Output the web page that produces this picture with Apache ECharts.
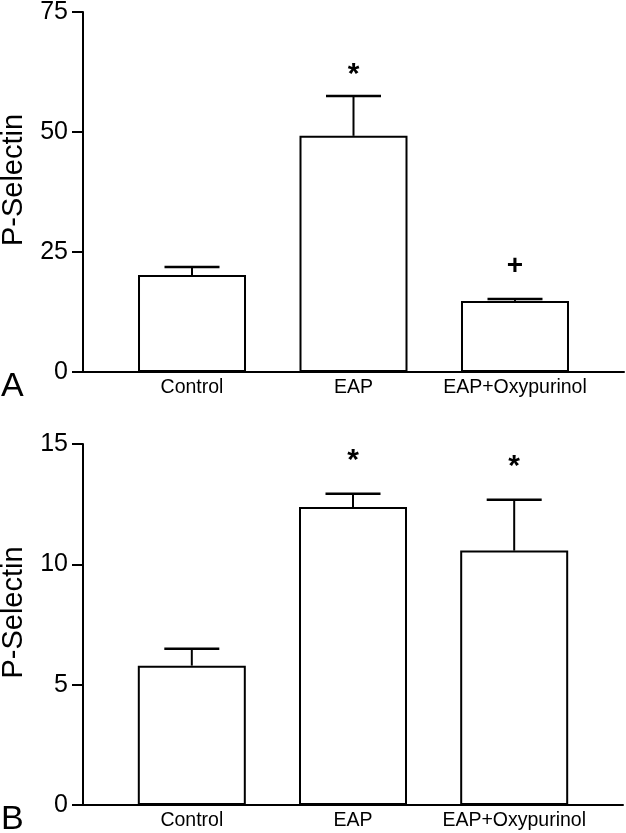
<!DOCTYPE html>
<html>
<head>
<meta charset="utf-8">
<script src="https://cdn.jsdelivr.net/npm/echarts@6/dist/echarts.min.js"></script>
<style>
html,body{margin:0;padding:0;background:#fff;}
#chart{width:626px;height:833px;}
</style>
</head>
<body>
<div id="chart"></div>
<script>
// ---- data ----
const categories = ['Control', 'EAP', 'EAP+Oxypurinol'];
const categoryPositions = [0, 1, 2];
const meansA = [20.2, 49.2, 14.8];
const errTopA = [21.9, 57.5, 15.2];
const meansB = [5.79, 12.38, 10.57];
const errTopB = [6.49, 12.93, 12.68];
const yTicksA = { min: 0, max: 75, interval: 25 };
const yTicksB = { min: 0, max: 15, interval: 5 };
// significance markers: [category index, y value, symbol]
const marksA = [[1, 62.0, '*'], [2, 22.0, '+']];
const marksB = [[1, 14.32, '*'], [2, 14.07, '*']];
const yName = 'P-Selectin';
const panelLabels = ['A', 'B'];

// ---- chart ----
const FONT = 'Liberation Sans, Arial, Helvetica, sans-serif';
const chart = echarts.init(document.getElementById('chart'), null, { renderer: 'canvas' });

function xAxisDef(gi) {
  return {
    type: 'value', gridIndex: gi, min: -0.675, max: 2.675,
    splitLine: { show: false },
    axisLine: { show: true, onZero: false, lineStyle: { color: '#000', width: 2 } },
    axisTick: { show: false },
    axisLabel: {
      customValues: categoryPositions,
      formatter: v => categories[Math.round(v)] || '',
      color: '#000', fontFamily: FONT, fontSize: 19.5, margin: 6
    }
  };
}
function yAxisDef(gi, t) {
  return {
    type: 'value', gridIndex: gi, min: t.min, max: t.max, interval: t.interval,
    name: yName, nameLocation: 'middle', nameGap: 55, nameRotate: 90,
    nameTextStyle: { color: '#000', fontFamily: FONT, fontSize: 29, padding: [0, 0, 0, 24] },
    splitLine: { show: false },
    axisLine: { show: true, onZero: false, lineStyle: { color: '#000', width: 2 } },
    axisTick: { show: true, length: 11, lineStyle: { color: '#000', width: 2 } },
    axisLabel: { color: '#000', fontFamily: FONT, fontSize: 25, margin: 15 }
  };
}
function barSeries(gi, means) {
  return {
    type: 'bar', xAxisIndex: gi, yAxisIndex: gi, barWidth: 108,
    data: means.map((m, i) => [categoryPositions[i], m]),
    itemStyle: { color: '#fff', borderColor: '#000', borderWidth: 2 },
    silent: true, animation: false
  };
}
function errSeries(gi, means, tops) {
  return {
    type: 'custom', xAxisIndex: gi, yAxisIndex: gi, animation: false, z: 5,
    data: means.map((m, i) => [categoryPositions[i], m, tops[i]]),
    renderItem: function (params, api) {
      const p0 = api.coord([api.value(0), api.value(1)]);
      const p1 = api.coord([api.value(0), api.value(2)]);
      const half = 27.5;
      return {
        type: 'group',
        children: [
          { type: 'line', shape: { x1: p0[0], y1: p0[1], x2: p1[0], y2: p1[1] }, style: { stroke: '#000', lineWidth: 2 } },
          { type: 'line', shape: { x1: p1[0] - half, y1: p1[1], x2: p1[0] + half, y2: p1[1] }, style: { stroke: '#000', lineWidth: 2.5 } }
        ]
      };
    }
  };
}
function markSeries(gi, marks) {
  return {
    type: 'custom', xAxisIndex: gi, yAxisIndex: gi, animation: false, z: 6,
    data: marks.map(m => [categoryPositions[m[0]], m[1]]),
    renderItem: function (params, api) {
      const p = api.coord([api.value(0), api.value(1)]);
      const sym = marks[params.dataIndex][2];
      return {
        type: 'text', x: p[0], y: p[1],
        style: {
          text: sym, fill: '#000',
          font: (sym === '+' ? 'bold 28px ' : 'bold 30px ') + FONT,
          textAlign: 'center', textVerticalAlign: 'middle'
        }
      };
    }
  };
}

const option = {
  backgroundColor: '#fff',
  animation: false,
  title: [
    { text: panelLabels[0], left: 1, top: 370, textStyle: { fontFamily: FONT, fontSize: 34, fontWeight: 'normal', color: '#000' }, padding: 0 },
    { text: panelLabels[1], left: 1, top: 803, textStyle: { fontFamily: FONT, fontSize: 34, fontWeight: 'normal', color: '#000' }, padding: 0 }
  ],
  grid: [
    { left: 83, right: 2, top: 12, height: 360, containLabel: false, outerBoundsMode: 'none' },
    { left: 83, right: 3, top: 444, height: 361, containLabel: false, outerBoundsMode: 'none' }
  ],
  xAxis: [xAxisDef(0), xAxisDef(1)],
  yAxis: [yAxisDef(0, yTicksA), yAxisDef(1, yTicksB)],
  series: [
    barSeries(0, meansA), errSeries(0, meansA, errTopA), markSeries(0, marksA),
    barSeries(1, meansB), errSeries(1, meansB, errTopB), markSeries(1, marksB)
  ]
};
chart.setOption(option);
</script>
</body>
</html>
